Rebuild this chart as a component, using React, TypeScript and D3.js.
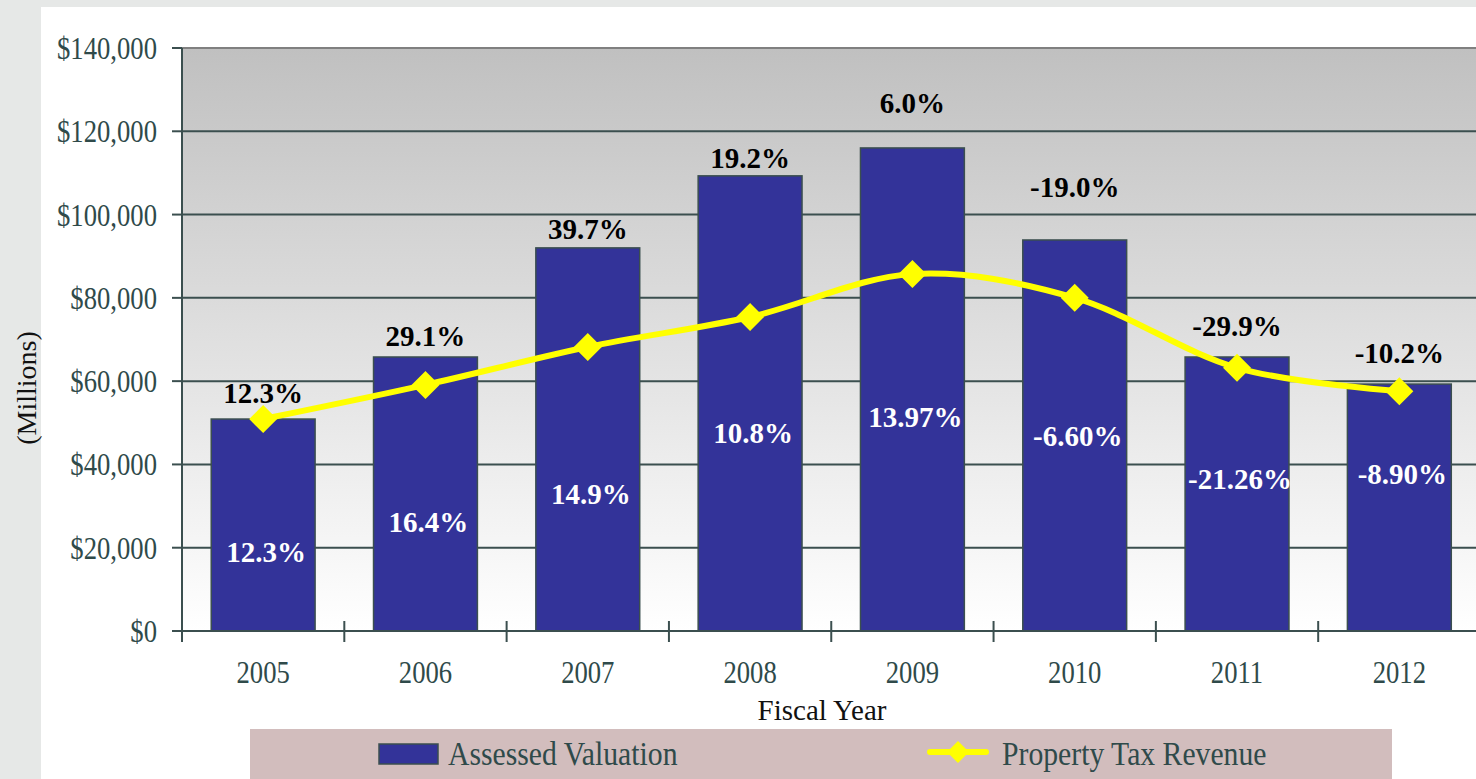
import React from "react";
import * as d3 from "d3";

const years = ["2005", "2006", "2007", "2008", "2009", "2010", "2011", "2012"];
const assessedValuation = [50900, 65800, 92000, 109300, 116000, 93900, 65800, 59300];
const propertyTaxRevenue = [50900, 59100, 68200, 75400, 85700, 80000, 63200, 57600];
const valuationChangeLabels = ["12.3%", "29.1%", "39.7%", "19.2%", "6.0%", "-19.0%", "-29.9%", "-10.2%"];
const revenueChangeLabels = ["12.3%", "16.4%", "14.9%", "10.8%", "13.97%", "-6.60%", "-21.26%", "-8.90%"];
// label anchor heights, in data units (as placed in the original)
const valuationLabelAnchors = [54750, 68440, 94130, 111180, 124390, 104220, 70840, 64360];
const revenueLabelAnchors = [16570, 23770, 30500, 45150, 48990, 44430, 34100, 35300];
const yTicks = [0, 20000, 40000, 60000, 80000, 100000, 120000, 140000];

const W = 1476;
const H = 779;
const plotLeft = 182;
const plotTop = 48;
const plotBottom = 631;
const plotRight = 1480.5;
const FONT = "'Liberation Serif', 'Times New Roman', serif";
const TEXT = "#2f4a4a";
const AXIS = "#3b4f4f";

function NarrowText(props: { x: number; y: number; anchor?: string; size: number; sx: number; fill: string; children: React.ReactNode }) {
  const { x, y, anchor, size, sx, fill, children } = props;
  return (
    <text transform={`translate(${x},${y}) scale(${sx},1)`} textAnchor={anchor || "start"} fontSize={size} fill={fill}>
      {children}
    </text>
  );
}

export default function App() {
  const x = d3.scaleBand<string>().domain(years).range([plotLeft, plotRight]).paddingInner(0.36).paddingOuter(0.18);
  const xOuter = d3.scaleBand<string>().domain(years).range([plotLeft, plotRight]);
  const y = d3.scaleLinear().domain([0, 140000]).range([plotBottom, plotTop]);
  const cx = (yr: string) => (xOuter(yr) as number) + xOuter.bandwidth() / 2;

  const line = d3
    .line<number>()
    .x((_, i) => cx(years[i]))
    .y((d) => y(d))
    .curve(d3.curveCardinal.tension(0));

  const fmt = (v: number) => "$" + d3.format(",")(v);

  return (
    <svg width={W} height={H} style={{ position: "absolute", left: 0, top: 0 }} fontFamily={FONT}>
      <defs>
        <linearGradient id="plotBg" x1="0" y1="0" x2="0" y2="1">
          <stop offset="0" stopColor="#c0c0c0" />
          <stop offset="1" stopColor="#ffffff" />
        </linearGradient>
      </defs>
      <rect x={0} y={0} width={W} height={H} fill="#e6e8e7" />
      <rect x={41} y={7} width={W - 41} height={H - 7} fill="#ffffff" />
      <rect x={plotLeft} y={plotTop} width={plotRight - plotLeft} height={plotBottom - plotTop} fill="url(#plotBg)" />
      <line x1={plotLeft} x2={plotRight} y1={plotTop} y2={plotTop} stroke="#808080" strokeWidth={2} />
      {/* gridlines */}
      {yTicks.slice(1, -1).map((t) => (
        <line key={t} x1={plotLeft} x2={plotRight} y1={y(t)} y2={y(t)} stroke={AXIS} strokeWidth={2} />
      ))}
      {/* bars */}
      {years.map((yr, i) => (
        <rect
          key={yr}
          x={x(yr)}
          y={y(assessedValuation[i])}
          width={x.bandwidth()}
          height={plotBottom - y(assessedValuation[i])}
          fill="#333399"
          stroke={AXIS}
          strokeWidth={1.5}
        />
      ))}
      {/* axes */}
      <line x1={plotLeft} x2={plotLeft} y1={plotTop} y2={plotBottom + 11} stroke={AXIS} strokeWidth={2} />
      <line x1={plotLeft - 10} x2={plotRight} y1={plotBottom} y2={plotBottom} stroke={AXIS} strokeWidth={2} />
      {yTicks.map((t) => (
        <g key={t}>
          <line x1={plotLeft - 10} x2={plotLeft} y1={y(t)} y2={y(t)} stroke={AXIS} strokeWidth={2} />
          <NarrowText x={157} y={y(t) + 11} anchor="end" size={31} sx={0.86} fill={TEXT}>
            {fmt(t)}
          </NarrowText>
        </g>
      ))}
      {years.map((yr) => (
        <g key={yr}>
          <line x1={(xOuter(yr) as number) + xOuter.bandwidth()} x2={(xOuter(yr) as number) + xOuter.bandwidth()} y1={plotBottom - 10} y2={plotBottom + 11} stroke={AXIS} strokeWidth={2} />
          <NarrowText x={cx(yr)} y={683} anchor="middle" size={31} sx={0.86} fill={TEXT}>
            {yr}
          </NarrowText>
        </g>
      ))}
      {/* line series */}
      <path d={line(propertyTaxRevenue) || ""} fill="none" stroke="#ffff00" strokeWidth={6} strokeLinejoin="round" />
      {propertyTaxRevenue.map((v, i) => {
        const px = cx(years[i]);
        const py = y(v);
        const r = 14;
        return <path key={i} d={`M${px},${py - r}L${px + r},${py}L${px},${py + r}L${px - r},${py}Z`} fill="#ffff00" />;
      })}
      {/* labels */}
      {years.map((yr, i) => (
        <text key={"t" + yr} x={cx(yr)} y={y(valuationLabelAnchors[i])} textAnchor="middle" fontSize={29} fontWeight="bold" fill="#000">
          {valuationChangeLabels[i]}
        </text>
      ))}
      {years.map((yr, i) => (
        <text key={"b" + yr} x={cx(yr) + 3} y={y(revenueLabelAnchors[i])} textAnchor="middle" fontSize={29} fontWeight="bold" fill="#ffffff">
          {revenueChangeLabels[i]}
        </text>
      ))}
      {/* axis titles */}
      <text x={822} y={720} textAnchor="middle" fontSize={29} fill="#111">
        Fiscal Year
      </text>
      <text transform="translate(36,388) rotate(-90)" textAnchor="middle" fontSize={28} fill="#111">
        (Millions)
      </text>
      {/* legend */}
      <rect x={250} y={729} width={1142} height={50} fill="#d2bdbd" />
      <rect x={379} y={744} width={59} height={20} fill="#333399" stroke={AXIS} strokeWidth={1.5} />
      <NarrowText x={448} y={765} size={33} sx={0.9} fill={TEXT}>
        Assessed Valuation
      </NarrowText>
      <line x1={930} x2={986} y1={752} y2={752} stroke="#ffff00" strokeWidth={6} strokeLinecap="round" />
      <path d="M958,741L969,752L958,763L947,752Z" fill="#ffff00" />
      <NarrowText x={1002} y={765} size={33} sx={0.9} fill={TEXT}>
        Property Tax Revenue
      </NarrowText>
    </svg>
  );
}
